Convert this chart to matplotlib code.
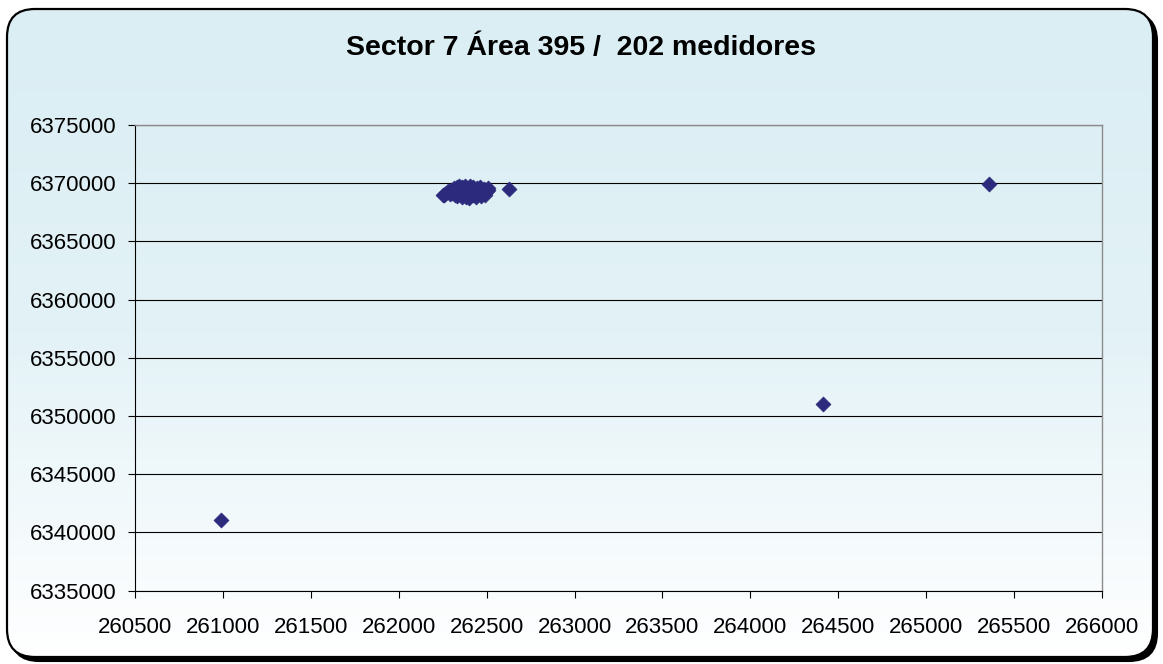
import numpy as np
import matplotlib.pyplot as plt
from matplotlib.patches import FancyBboxPatch
from matplotlib.colors import LinearSegmentedColormap

plt.rcParams['font.family'] = ['Liberation Sans', 'DejaVu Sans']

title = 'Sector 7 Área 395 /  202 medidores'

# meter coordinates (east, north)
east_main = [262250, 262265, 262260, 262280, 262290, 262300, 262305, 262315,
             262320, 262330, 262335, 262340, 262350, 262355, 262360, 262370,
             262375, 262380, 262390, 262395, 262400, 262405, 262410, 262420,
             262425, 262430, 262440, 262445, 262450, 262455, 262460, 262470,
             262475, 262480, 262485, 262490, 262500, 262505, 262510, 262330,
             262380, 262420, 262440, 262400, 262360, 262470]
north_main = [6369000, 6369100, 6368950, 6369300, 6369050, 6369400, 6369200, 6369550,
              6369000, 6369650, 6369300, 6369750, 6369500, 6369100, 6369700, 6369400,
              6369750, 6369000, 6369600, 6369300, 6368850, 6369750, 6369500, 6369200,
              6369700, 6369400, 6368800, 6369600, 6369050, 6369300, 6369700, 6368900,
              6369450, 6369150, 6369500, 6368950, 6369300, 6369600, 6369400, 6368900,
              6368800, 6368950, 6369000, 6368750, 6368850, 6369200]
east_far = [262630, 265360, 264415, 260990]
north_far = [6369500, 6369900, 6351000, 6341100]

east = east_main + east_far
north = north_main + north_far

W, H = 1163, 664
fig = plt.figure(figsize=(W / 100, H / 100), dpi=100)

# background: rounded frame with shadow and a light blue gradient
bg = fig.add_axes([0, 0, 1, 1])
bg.set_xlim(0, W)
bg.set_ylim(H, 0)
bg.axis('off')
shadow = FancyBboxPatch((11, 13), 1146, 648, boxstyle='round,pad=0,rounding_size=28',
                        fc='black', ec='black', lw=1.5)
bg.add_patch(shadow)
frame = FancyBboxPatch((7, 9), 1146, 648, boxstyle='round,pad=0,rounding_size=28',
                       fc='none', ec='black', lw=1.6, zorder=3)
bg.add_patch(frame)
cmap = LinearSegmentedColormap.from_list('bgfade', ['#DAEEF3', '#E3F2F7', '#FFFFFF'])
grad = np.linspace(0, 1, 256).reshape(-1, 1)
img = bg.imshow(grad, cmap=cmap, extent=(7, 1153, 657, 9), aspect='auto', zorder=1)
clip = FancyBboxPatch((7, 9), 1146, 648, boxstyle='round,pad=0,rounding_size=28',
                      fc='none', ec='none', transform=bg.transData)
img.set_clip_path(clip)

fig.text(0.5, 1 - 48 / H, title, ha='center', va='center',
         fontsize=20.5, fontweight='bold')

ax = fig.add_axes([135 / W, 1 - 590.7 / H, 967 / W, 465.7 / H])
ax.patch.set_alpha(0)
ax.scatter(east, north, marker='D', s=58, color='#2B2A7C', edgecolors='#2B2A7C',
           linewidths=0.5, zorder=3)

ax.set_xlim(260500, 266000)
ax.set_ylim(6335000, 6375000)
ax.set_xticks(np.arange(260500, 266001, 500))
ax.set_yticks(np.arange(6335000, 6375001, 5000))
ax.ticklabel_format(useOffset=False, style='plain')
ax.yaxis.grid(True, color='black', lw=0.8)
ax.set_axisbelow(True)
ax.tick_params(labelsize=16, length=5, width=0.8)
ax.tick_params(axis='x', pad=14)
ax.tick_params(axis='y', pad=8)
for side in ['top', 'right']:
    ax.spines[side].set_color('#8C8C8C')
    ax.spines[side].set_linewidth(1.0)
for side in ['left', 'bottom']:
    ax.spines[side].set_linewidth(0.8)

fig.savefig('out.png', dpi=100)
